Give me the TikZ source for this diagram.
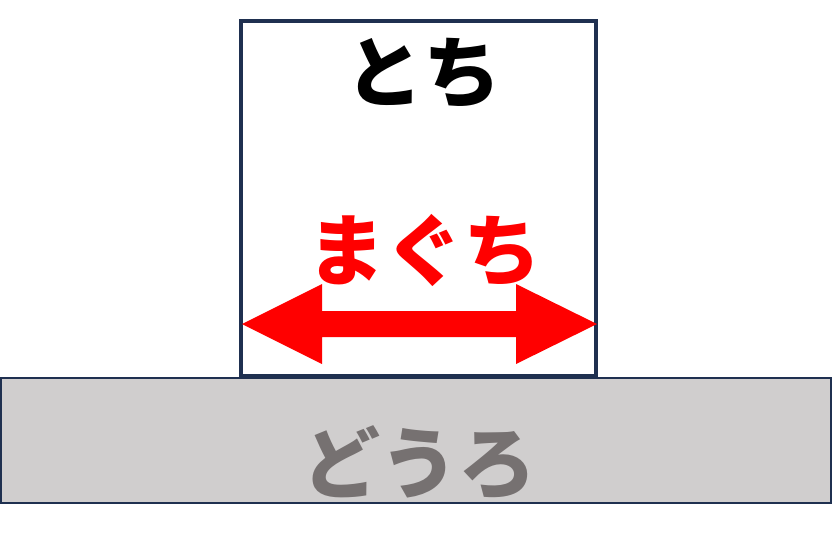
\documentclass[tikz,border=0pt]{standalone}
\usepackage{fontspec}
\newfontfamily\jp{Noto Sans CJK JP}
\definecolor{navy}{HTML}{1F3050}
\definecolor{roadfill}{HTML}{D0CECE}
\definecolor{roadtext}{HTML}{767171}
\definecolor{arrowred}{HTML}{FF0000}
\begin{document}
\begin{tikzpicture}[x=1pt,y=-1pt,
  lbl/.style={font=\jp\bfseries\fontsize{78}{78}\selectfont, inner sep=0pt, anchor=center}]
\useasboundingbox (0,0) rectangle (832,547);
% land box
\draw[navy, line width=4.5pt, fill=white] (241,21) rectangle (596,376);
\node[lbl, text=black] (tochi) at (423,73) {とち};
% road
\draw[navy, line width=2pt, fill=roadfill] (1,378) rectangle (831,503);
\node[lbl, text=roadtext] (douro) at (419,463) {どうろ};
% frontage arrow
\fill[arrowred] (242,324) -- (322,284) -- (322,311) -- (516,311) -- (516,284)
  -- (597,324) -- (516,364) -- (516,337) -- (322,337) -- (322,364) -- cycle;
\node[lbl, text=arrowred] (maguchi) at (424,250) {まぐち};
\end{tikzpicture}
\end{document}
